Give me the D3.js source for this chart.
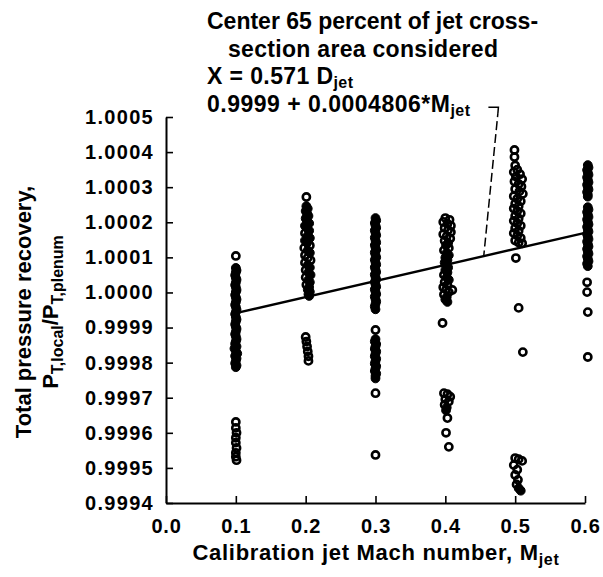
<!DOCTYPE html>
<html>
<head>
<meta charset="utf-8">
<script src="https://cdn.jsdelivr.net/npm/d3@7"></script>
<style>
  html, body { margin: 0; padding: 0; background: #fff; }
  svg { display: block; }
  text { font-family: "Liberation Sans", Arial, Helvetica, sans-serif; font-weight: bold; fill: #000; }
</style>
</head>
<body>
<svg id="chart" width="603" height="577"></svg>
<script>
// ---------------- data ----------------
const xTicks = [0.0, 0.1, 0.2, 0.3, 0.4, 0.5, 0.6];
const xTickLabels = ["0.0", "0.1", "0.2", "0.3", "0.4", "0.5", "0.6"];
const yTicks = [0.9994, 0.9995, 0.9996, 0.9997, 0.9998, 0.9999, 1.0000, 1.0001, 1.0002, 1.0003, 1.0004, 1.0005];
const yTickLabels = ["0.9994", "0.9995", "0.9996", "0.9997", "0.9998", "0.9999", "1.0000", "1.0001", "1.0002", "1.0003", "1.0004", "1.0005"];

// [Mach number, total pressure recovery]
const cluster01 = [
  [0.100, 1.000104],
  [0.100, 1.000070], [0.101, 1.000063], [0.100, 1.000057], [0.099, 1.000049], [0.100, 1.000042],
  [0.101, 1.000036], [0.100, 1.000028], [0.099, 1.000021], [0.100, 1.000015], [0.101, 1.000007],
  [0.100, 1.000001], [0.099, 0.999993], [0.100, 0.999986], [0.101, 0.999980], [0.100, 0.999972],
  [0.099, 0.999965], [0.100, 0.999959], [0.101, 0.999951], [0.100, 0.999944], [0.099, 0.999938],
  [0.100, 0.999930], [0.101, 0.999923], [0.100, 0.999917], [0.099, 0.999909], [0.100, 0.999902],
  [0.101, 0.999896], [0.100, 0.999888], [0.099, 0.999881], [0.100, 0.999875], [0.101, 0.999867],
  [0.100, 0.999860], [0.099, 0.999854], [0.101, 0.999846], [0.098, 0.999840], [0.100, 0.999833],
  [0.102, 0.999826], [0.099, 0.999819], [0.101, 0.999812], [0.100, 0.999805], [0.099, 0.999798],
  [0.101, 0.999792], [0.100, 0.999787],
  [0.100, 0.999631], [0.100, 0.999614], [0.101, 0.999600], [0.100, 0.999586], [0.100, 0.999572],
  [0.101, 0.999557], [0.100, 0.999543], [0.100, 0.999532], [0.101, 0.999522]
];
const cluster02 = [
  [0.201, 1.000272],
  [0.201, 1.000246], [0.203, 1.000239], [0.200, 1.000232], [0.202, 1.000225], [0.204, 1.000218],
  [0.200, 1.000211], [0.202, 1.000204], [0.205, 1.000197], [0.199, 1.000190], [0.202, 1.000183],
  [0.205, 1.000176], [0.199, 1.000169], [0.203, 1.000162], [0.206, 1.000155], [0.199, 1.000148],
  [0.202, 1.000141], [0.206, 1.000134], [0.198, 1.000127], [0.203, 1.000120], [0.206, 1.000113],
  [0.199, 1.000106], [0.203, 1.000099], [0.207, 1.000092], [0.199, 1.000085], [0.203, 1.000078],
  [0.206, 1.000071], [0.200, 1.000064], [0.204, 1.000057], [0.207, 1.000050], [0.200, 1.000043],
  [0.204, 1.000036], [0.206, 1.000029], [0.201, 1.000022], [0.205, 1.000015], [0.203, 1.000008],
  [0.206, 1.000002], [0.204, 0.999995], [0.205, 0.999990],
  [0.200, 0.999873], [0.201, 0.999860], [0.202, 0.999846], [0.203, 0.999832], [0.204, 0.999818],
  [0.204, 0.999805]
];
const cluster03 = [
  [0.300, 1.000212], [0.301, 1.000205], [0.299, 1.000198], [0.300, 1.000191], [0.301, 1.000184],
  [0.299, 1.000177], [0.300, 1.000170], [0.301, 1.000163], [0.299, 1.000156], [0.300, 1.000149],
  [0.301, 1.000142], [0.299, 1.000135], [0.300, 1.000128], [0.301, 1.000121], [0.299, 1.000114],
  [0.300, 1.000107], [0.301, 1.000100], [0.299, 1.000093], [0.300, 1.000086], [0.301, 1.000079],
  [0.299, 1.000072], [0.300, 1.000065], [0.301, 1.000058], [0.299, 1.000051], [0.300, 1.000044],
  [0.301, 1.000037], [0.299, 1.000030], [0.300, 1.000023], [0.301, 1.000016], [0.299, 1.000009],
  [0.300, 1.000002], [0.301, 0.999995], [0.299, 0.999988], [0.300, 0.999981], [0.301, 0.999974],
  [0.300, 0.999967], [0.299, 0.999960], [0.300, 0.999952],
  [0.300, 0.999893], [0.300, 0.999867], [0.299, 0.999860], [0.301, 0.999853], [0.300, 0.999846],
  [0.299, 0.999839], [0.301, 0.999832], [0.300, 0.999825], [0.299, 0.999818], [0.301, 0.999811],
  [0.300, 0.999804], [0.299, 0.999797], [0.301, 0.999790], [0.300, 0.999783], [0.299, 0.999776],
  [0.301, 0.999769], [0.300, 0.999762], [0.300, 0.999755],
  [0.300, 0.999713], [0.300, 0.999537]
];
const cluster04 = [
  [0.400, 1.000212], [0.406, 1.000207], [0.397, 1.000201], [0.403, 1.000196], [0.408, 1.000190],
  [0.399, 1.000184], [0.404, 1.000178], [0.408, 1.000172], [0.397, 1.000166], [0.402, 1.000160],
  [0.407, 1.000154], [0.399, 1.000147], [0.404, 1.000141], [0.401, 1.000134], [0.405, 1.000127],
  [0.398, 1.000120], [0.402, 1.000113], [0.405, 1.000106], [0.400, 1.000099], [0.403, 1.000092],
  [0.399, 1.000085], [0.402, 1.000078], [0.404, 1.000071], [0.400, 1.000064], [0.403, 1.000057],
  [0.398, 1.000050], [0.402, 1.000043], [0.405, 1.000036], [0.399, 1.000029], [0.403, 1.000022],
  [0.397, 1.000015], [0.401, 1.000008], [0.410, 1.000007], [0.405, 1.000001], [0.398, 0.999994],
  [0.402, 0.999987], [0.400, 0.999980], [0.403, 0.999973],
  [0.396, 0.999913],
  [0.398, 0.999713], [0.403, 0.999710], [0.407, 0.999703], [0.400, 0.999696], [0.405, 0.999689],
  [0.399, 0.999680], [0.402, 0.999672], [0.401, 0.999664], [0.403, 0.999642], [0.401, 0.999600],
  [0.405, 0.999560]
];
const cluster05 = [
  [0.499, 1.000406], [0.499, 1.000386], [0.500, 1.000362],
  [0.503, 1.000350], [0.498, 1.000343], [0.507, 1.000337], [0.501, 1.000330], [0.510, 1.000323],
  [0.499, 1.000316], [0.505, 1.000309], [0.509, 1.000302], [0.500, 1.000295], [0.506, 1.000288],
  [0.511, 1.000281], [0.498, 1.000274], [0.503, 1.000267], [0.508, 1.000260], [0.500, 1.000253],
  [0.505, 1.000246], [0.498, 1.000239], [0.503, 1.000232], [0.508, 1.000225], [0.500, 1.000218],
  [0.505, 1.000211], [0.498, 1.000204], [0.503, 1.000197], [0.508, 1.000190], [0.500, 1.000183],
  [0.505, 1.000176], [0.498, 1.000169], [0.503, 1.000162], [0.508, 1.000155], [0.500, 1.000148],
  [0.505, 1.000142], [0.510, 1.000140],
  [0.501, 1.000098], [0.505, 0.999956], [0.511, 0.999830],
  [0.500, 0.999528], [0.505, 0.999525], [0.510, 0.999520], [0.498, 0.999508], [0.503, 0.999495],
  [0.500, 0.999480], [0.504, 0.999466], [0.502, 0.999453], [0.505, 0.999442], [0.508, 0.999435]
];
const cluster06 = [
  [0.604, 1.000363], [0.605, 1.000356], [0.603, 1.000349], [0.604, 1.000342], [0.605, 1.000335],
  [0.603, 1.000328], [0.604, 1.000321], [0.605, 1.000314], [0.603, 1.000307], [0.604, 1.000300],
  [0.605, 1.000293], [0.603, 1.000286], [0.604, 1.000279], [0.604, 1.000273],
  [0.604, 1.000243], [0.605, 1.000236], [0.603, 1.000229], [0.604, 1.000222], [0.605, 1.000215],
  [0.603, 1.000208], [0.604, 1.000201], [0.605, 1.000194], [0.603, 1.000187], [0.604, 1.000180],
  [0.605, 1.000173], [0.603, 1.000166], [0.604, 1.000159], [0.605, 1.000152], [0.603, 1.000145],
  [0.604, 1.000138], [0.605, 1.000131], [0.603, 1.000124], [0.604, 1.000117], [0.605, 1.000110],
  [0.603, 1.000103], [0.604, 1.000096], [0.605, 1.000089], [0.603, 1.000082], [0.604, 1.000075],
  [0.603, 1.000029], [0.603, 1.000001], [0.604, 0.999944], [0.604, 0.999816]
];

// fitted line 0.9999 + 0.0004806*Mjet, as drawn in the figure (end points)
const fitPoints = [[0.1, 0.999941], [0.6, 1.000170]];
const leaderTop = [0.476, 1.000528];
const leaderBottomMach = 0.455;

const titleLines = ["Center 65 percent of jet cross-", "section area considered"];
const xLabel = "Calibration jet Mach number, M";
const yLabel1 = "Total pressure recovery,";

// ---------------- drawing ----------------
const svg = d3.select("#chart");
svg.append("rect").attr("width", 603).attr("height", 577).attr("fill", "#fff");

const x = d3.scaleLinear().domain([0, 0.6]).range([166, 585]);
const y = d3.scaleLinear().domain([0.9994, 1.0005]).range([503, 117]);

// y axis
const yAxis = d3.axisLeft(y).tickValues(yTicks)
  .tickFormat((d, i) => yTickLabels[i]).tickSizeInner(-7).tickSizeOuter(0).tickPadding(12);
const gy = svg.append("g").attr("transform", "translate(166,0)").call(yAxis);
gy.select(".domain").attr("stroke", "#000").attr("stroke-width", 2);
gy.selectAll(".tick line").attr("stroke", "#000").attr("stroke-width", 1.6);
gy.selectAll(".tick text").attr("font-size", 20).attr("font-family", "Liberation Sans, Arial, sans-serif")
  .attr("font-weight", "bold").attr("fill", "#000").attr("letter-spacing", 1.3);

// x axis
const xAxis = d3.axisBottom(x).tickValues(xTicks)
  .tickFormat((d, i) => xTickLabels[i]).tickSizeInner(-7).tickSizeOuter(0).tickPadding(16);
const gx = svg.append("g").attr("transform", "translate(0,503)").call(xAxis);
gx.select(".domain").attr("stroke", "#000").attr("stroke-width", 2);
gx.selectAll(".tick line").attr("stroke", "#000").attr("stroke-width", 1.6);
gx.selectAll(".tick text").attr("font-size", 20).attr("font-family", "Liberation Sans, Arial, sans-serif")
  .attr("font-weight", "bold").attr("fill", "#000").attr("letter-spacing", 0.8);

// points: open circles; where rings pile up closely (dense runs) the holes close up, as in the print
const allPoints = [].concat(cluster01, cluster02, cluster03, cluster04, cluster05, cluster06);
const px = allPoints.map(d => [x(d[0]), y(d[1])]);
const crowded = px.map((p, i) => px.some((q, j) => j !== i && Math.hypot(p[0] - q[0], p[1] - q[1]) < 3.4));
const gPts = svg.append("g");
gPts.selectAll("circle.dot").data(allPoints).join("circle").attr("class", "dot")
  .attr("cx", d => x(d[0])).attr("cy", d => y(d[1]))
  .attr("r", (d, i) => crowded[i] ? 4.4 : 3.6)
  .attr("fill", (d, i) => crowded[i] ? "#000" : "none")
  .attr("stroke", "#000").attr("stroke-width", (d, i) => crowded[i] ? 1 : 2.6);

// fit line
const fitLine = d3.line().x(d => x(d[0])).y(d => y(d[1]));
svg.append("path").attr("d", fitLine(fitPoints)).attr("fill", "none")
  .attr("stroke", "#000").attr("stroke-width", 2.4);

// leader line
const fitAt = m => fitPoints[0][1] + (fitPoints[1][1] - fitPoints[0][1]) * (m - fitPoints[0][0]) / (fitPoints[1][0] - fitPoints[0][0]);
const lx = x(leaderTop[0]), ly = y(leaderTop[1]);
const bx = x(leaderBottomMach), by = y(fitAt(leaderBottomMach));
svg.append("path").attr("d", `M${lx - 10},${ly} L${lx},${ly} L${lx - 0.5},${ly + 6}`)
  .attr("fill", "none").attr("stroke", "#000").attr("stroke-width", 1.5);
svg.append("path").attr("d", `M${lx - 0.5},${ly + 6} L${bx},${by}`)
  .attr("fill", "none").attr("stroke", "#000").attr("stroke-width", 1.5)
  .attr("stroke-dasharray", "4,4,9,4,9,4,9,4,9,4,9,4,9,4,9,4,9,4,9,4,9,4,9,4");

// annotation text
const ann = svg.append("g").attr("font-size", 23);
ann.append("text").attr("x", 207).attr("y", 29).text(titleLines[0]);
ann.append("text").attr("x", 228).attr("y", 57).attr("letter-spacing", 0.3).text(titleLines[1]);
const t3 = ann.append("text").attr("x", 207).attr("y", 84).attr("letter-spacing", 0.4);
t3.append("tspan").text("X = 0.571 D");
t3.append("tspan").attr("dy", 4).attr("font-size", 16).text("jet");
const t4 = ann.append("text").attr("x", 207).attr("y", 112).attr("letter-spacing", 0.5);
t4.append("tspan").text("0.9999 + 0.0004806*M");
t4.append("tspan").attr("dy", 4).attr("font-size", 16).text("jet");

// x label
const xl = svg.append("text").attr("x", 376).attr("y", 560).attr("text-anchor", "middle")
  .attr("font-size", 22).attr("letter-spacing", 0.7);
xl.append("tspan").text(xLabel);
xl.append("tspan").attr("dy", 5).attr("font-size", 16).text("jet");

// y label
const yl = svg.append("g").attr("transform", "translate(31,312) rotate(-90)");
yl.append("text").attr("x", 0).attr("y", 0).attr("text-anchor", "middle").attr("font-size", 22).text(yLabel1);
const yl2 = yl.append("text").attr("x", 0).attr("y", 27).attr("text-anchor", "middle").attr("font-size", 22);
yl2.append("tspan").text("P");
yl2.append("tspan").attr("dy", 5).attr("font-size", 16).text("T,local");
yl2.append("tspan").attr("dy", -5).text("/P");
yl2.append("tspan").attr("dy", 5).attr("font-size", 16).text("T,plenum");
</script>
</body>
</html>
